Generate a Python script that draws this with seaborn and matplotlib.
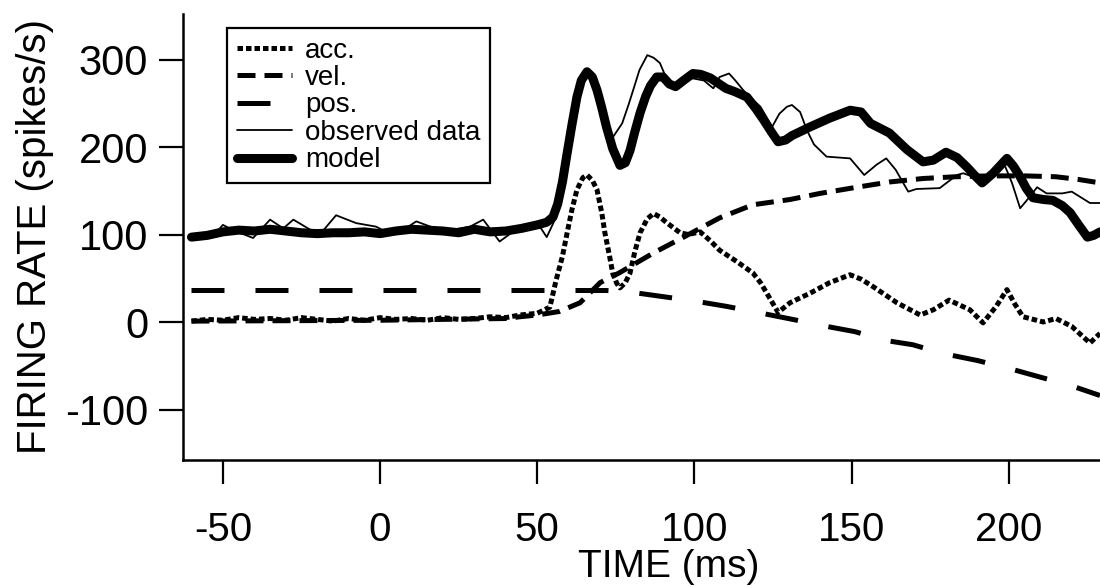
import numpy as np
import pandas as pd
import matplotlib
matplotlib.use('Agg')
import matplotlib.pyplot as plt
import seaborn as sns

sns.set_style('white')
plt.rcParams['font.family'] = ['Liberation Sans', 'DejaVu Sans']
plt.rcParams['axes.unicode_minus'] = False
plt.rcParams['text.color'] = 'black'
plt.rcParams['axes.labelcolor'] = 'black'

# observed firing rate (spikes/s)
obs_t = [-60, -53, -50, -46.8, -40.4, -35, -30.8, -27.6, -22, -18, -14, -7.6, -1.3, 3, 7.3,
         11.5, 16, 22, 28.6, 32.8, 38, 43, 48.7, 51, 53, 56, 58, 59.5, 61, 62.6, 64.2, 65.8,
         67.5, 69, 70.5, 72, 74, 77, 79, 80.5, 82.5, 85, 87, 89, 91, 94, 96, 98.6, 103, 106,
         108, 111, 113, 115.5, 118, 121, 124.7, 127, 129.4, 131, 133.6, 135.8, 138, 142, 149.5,
         154, 158, 161, 164, 168, 170.6, 178, 183.5, 185.5, 188.6, 192, 195, 198, 201, 203.6,
         205.7, 209, 212, 217, 220, 225.8, 229]
obs_r = [98, 99, 111, 105, 96, 117, 107, 117, 105, 105, 122, 113, 109, 101, 105,
         115, 109, 105, 109, 117, 92, 105, 113, 108, 97, 120, 160, 193, 228, 257, 278, 286,
         278, 262, 242, 225, 211, 227, 248, 265, 288, 305, 302, 296, 279, 269, 272, 279, 276, 267,
         280, 284, 276, 265, 256, 246, 223, 238, 246, 248, 240, 219, 203, 189, 187,
         168, 180, 187, 174, 149, 152, 153, 168, 170, 166, 160, 170, 185, 159, 130,
         139, 154, 147, 147, 149, 136, 136]

# model prediction
mod_t = [-60, -55, -50, -45, -40, -35, -30, -25, -20, -15, -10, -5, 0, 5, 10, 15, 20, 25,
         30, 35, 40, 45, 50, 53, 55, 56.5, 58, 59.5, 61, 62.6, 64, 65.8, 67.5, 69, 70.5, 72,
         74, 76.3, 78, 79.5, 81, 82.7, 84.5, 86, 88, 90, 92, 94, 96.5, 99.5, 102, 105, 110,
         113, 116.7, 119.5, 122, 124.5, 126.6, 129, 131, 136.8, 143, 149.5, 153, 156, 162,
         167.6, 172.7, 176, 180, 183.5, 186.7, 189, 191.5, 195, 199.4, 201.5, 203.6, 205.5,
         207.7, 211, 214, 217, 219.5, 222, 225, 227, 229]
mod_r = [97, 99, 103, 105, 104, 106, 104, 102, 101, 102, 102, 103, 101, 104, 106, 105, 104, 102,
         106, 103, 104, 107, 111, 114, 120, 135, 160, 193, 225, 257, 276, 286, 280, 265, 245, 223,
         198, 179, 182, 196, 217, 239, 258, 270, 280, 280, 272, 269, 276, 284, 283, 279, 267,
         263, 257, 244, 231, 217, 206, 208, 213, 223, 233, 242, 240, 227, 216,
         197, 183, 185, 194, 188, 177, 168, 159, 170, 187, 178, 166, 153,
         142, 140, 139, 133, 125, 112, 97, 99, 103]

# acceleration component
acc_t = [-60, -55, -50, -45, -40, -35, -30, -25, -20, -15, -10, -5, 0, 5, 10, 15, 20, 25, 30,
         35, 40, 44.5, 50, 54, 56, 58, 59.5, 61, 62.6, 64.5, 65.8, 67.5, 69, 70.5, 71.5, 73, 74,
         75.3, 76.3, 78, 79.5, 81, 82.7, 85, 87, 89, 91, 95.4, 98, 101.8, 105, 108, 113.5,
         118.6, 121, 123, 126.6, 130.4, 136.8, 143, 149.5, 153, 157, 164.4, 171.8, 176, 181,
         187.6, 191.8, 196, 199.4, 202, 204.5, 211, 215, 220, 225.8, 229]
acc_r = [1, 3, 2, 5, 3, 4, 2, 5, 3, 1, 4, 2, 5, 3, 4, 2, 5, 3, 4,
         6, 5, 8, 10, 17, 48, 75, 102, 128, 151, 165, 168, 162, 151, 125, 102, 75, 56,
         44, 39, 45, 56, 80, 102, 118, 124, 120, 114, 102, 100, 103, 93, 82, 69,
         56, 45, 33, 11, 22, 33, 45, 54, 49, 40, 22, 8, 14, 25,
         14, -1, 18, 37, 20, 6, 0, 4, -5, -24, -13]

# velocity component
vel_t = [-60, 0, 40, 44.5, 50, 57, 63.6, 70, 76, 87, 97.6, 108, 118.6, 130.4, 140,
         151.6, 162, 172.7, 183, 193.8, 205, 215, 222, 229]
vel_r = [1, 2, 4, 6, 8, 12, 22, 45, 56, 79, 99, 119, 134, 140, 147,
         154, 160, 164, 166, 167, 167, 166, 163, 159]

# position component
pos_t = [-60, 0, 50, 72, 80, 90, 100, 110, 120, 132.6, 142, 151, 160.6, 169.5, 179,
         190, 200, 210, 220, 229]
pos_r = [36, 36, 36, 36, 34, 29, 24, 18, 11, 2, -5, -11, -21, -26, -36,
         -44, -53, -63, -73, -84]

fig = plt.figure(figsize=(11, 5.87), dpi=100)
ax = fig.add_axes([183 / 1100, 1 - 460 / 587, 1 - 183 / 1100, 446 / 587])

sns.lineplot(x=acc_t, y=acc_r, ax=ax, color='black', lw=3.6, linestyle=(0, (1.1, 0.6)),
             label='acc.', estimator=None)
sns.lineplot(x=vel_t, y=vel_r, ax=ax, color='black', lw=3.6, linestyle=(0, (3.6, 1.8)),
             label='vel.', estimator=None)
sns.lineplot(x=pos_t, y=pos_r, ax=ax, color='black', lw=3.6, linestyle=(0, (6.6, 6.2)),
             label='pos.', estimator=None)
sns.lineplot(x=obs_t, y=obs_r, ax=ax, color='black', lw=1.3, label='observed data',
             estimator=None)
sns.lineplot(x=mod_t, y=mod_r, ax=ax, color='black', lw=6.5, label='model', estimator=None)
for ln in ax.get_lines():
    ln.set_solid_joinstyle('round')
    ln.set_solid_capstyle('round')

ax.set_xlim(-62.7, 229)
ax.set_ylim(-157.7, 352)
ax.set_xticks([-50, 0, 50, 100, 150, 200])
ax.set_yticks([-100, 0, 100, 200, 300])
ax.tick_params(axis='both', direction='out', length=17, width=1.6, labelsize=30,
               colors='black', left=True, bottom=True)
ax.tick_params(axis='x', pad=20, labelsize=29)
ax.tick_params(axis='y', pad=8)
for s in ['top', 'right']:
    ax.spines[s].set_visible(False)
for s in ['left', 'bottom']:
    ax.spines[s].set_color('black')
    ax.spines[s].set_linewidth(1.8)

ax.set_xlabel('TIME (ms)', fontsize=28, color='black')
ax.set_ylabel('FIRING RATE (spikes/s)', fontsize=29, color='black')
ax.xaxis.set_label_coords((669 - 183) / 917, -(549 - 460) / 446)
ax.yaxis.set_label_coords(-(183 - 54) / 917, 0.5)

leg = ax.legend(loc='upper left', bbox_to_anchor=(227 / 1100, 1 - 28 / 587),
                bbox_transform=fig.transFigure, fontsize=20, frameon=True, fancybox=False,
                framealpha=1, edgecolor='black', labelspacing=0.05, handlelength=2.0,
                handletextpad=0.45, borderpad=0.35, borderaxespad=0)
leg.get_frame().set_linewidth(1.6)
for t in leg.get_texts():
    t.set_color('black')

fig.savefig('out.png', dpi=100)
